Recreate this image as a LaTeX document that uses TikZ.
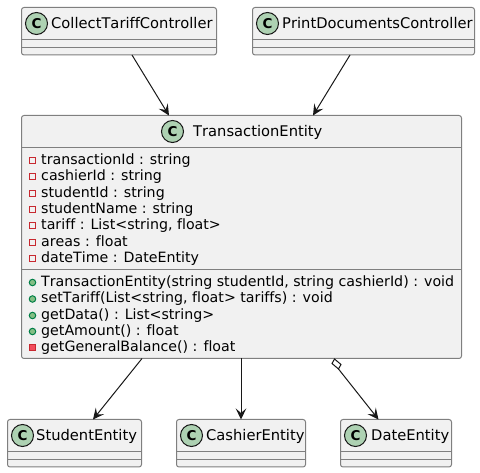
\documentclass[tikz,border=0pt]{standalone}
\usepackage{fontspec}
\setmainfont{DejaVu Sans}[Kerning=Off,Ligatures=NoCommon]
\usetikzlibrary{arrows.meta,calc}
\definecolor{boxfill}{HTML}{F1F1F1}
\definecolor{boxline}{HTML}{7F7F7F}
\definecolor{ink}{HTML}{181818}
\definecolor{spot}{HTML}{ADD1B2}
\definecolor{privline}{HTML}{C82930}
\definecolor{privfill}{HTML}{F24D5C}
\definecolor{publine}{HTML}{038048}
\definecolor{pubfill}{HTML}{84BE84}
\tikzset{
  x=1pt,y=-1pt,
  classbox/.style={draw=boxline,fill=boxfill,line width=1pt,rounded corners=2.5pt,anchor=north west,inner sep=0pt,outer sep=0pt},
  divider/.style={draw=boxline,line width=1pt},
  spotc/.style={circle,draw=ink,fill=spot,line width=1pt,minimum size=22pt,inner sep=0pt,font=\fontsize{13.5}{13.5}\selectfont\bfseries},
  title/.style={anchor=base west,inner sep=0pt,font=\fontsize{14.7}{14.7}\selectfont,text=black},
  member/.style={anchor=base west,inner sep=0pt,font=\fontsize{14.2}{14.2}\selectfont,text=black},
  privattr/.style={rectangle,draw=privline,fill=none,line width=1pt,minimum size=6pt,inner sep=0pt},
  pubop/.style={circle,draw=publine,fill=pubfill,line width=1pt,minimum size=6.5pt,inner sep=0pt},
  privop/.style={rectangle,draw=privline,fill=privfill,line width=1pt,minimum size=6pt,inner sep=0pt},
  link/.style={draw=ink,line width=1pt,-{Stealth[length=11pt,width=10.5pt,inset=4.5pt]}},
  aggr/.style={draw=ink,fill=white,line width=1pt},
}
\begin{document}
\begin{tikzpicture}
\useasboundingbox (0,0) rectangle (480,473);
% boxes
\node[classbox,minimum width=195pt,minimum height=47.5pt] (collect) at (21.5,7.5) {};
\node[classbox,minimum width=222pt,minimum height=47.5pt] (print) at (252.5,7.5) {};
\node[classbox,minimum width=440pt,minimum height=243pt] (trans) at (21.5,115.5) {};
\node[classbox,minimum width=134pt,minimum height=47.5pt] (student) at (7.5,419.5) {};
\node[classbox,minimum width=129pt,minimum height=47.5pt] (cashier) at (176.5,419.5) {};
\node[classbox,minimum width=111pt,minimum height=47.5pt] (date) at (340.5,419.5) {};
% dividers
\draw[divider] (21.5,39.5) -- (216.5,39.5) (21.5,47.5) -- (216.5,47.5);
\draw[divider] (252.5,39.5) -- (474.5,39.5) (252.5,47.5) -- (474.5,47.5);
\draw[divider] (21.5,147.5) -- (461.5,147.5) (21.5,269.5) -- (461.5,269.5);
\draw[divider] (7.5,451.5) -- (141.5,451.5) (7.5,459.5) -- (141.5,459.5);
\draw[divider] (176.5,451.5) -- (305.5,451.5) (176.5,459.5) -- (305.5,459.5);
\draw[divider] (340.5,451.5) -- (451.5,451.5) (340.5,459.5) -- (451.5,459.5);
% spots
\node[spotc] (s1) at (36.5,23.5) {C};
\node[spotc] (s2) at (267.5,23.5) {C};
\node[spotc] (s3) at (172.5,131.5) {C};
\node[spotc] (s4) at (22.5,435.5) {C};
\node[spotc] (s5) at (191.5,435.5) {C};
\node[spotc] (s6) at (355.5,435.5) {C};
% titles
\node[title] (t1) at (51,28.5) {CollectTariffController};
\node[title] (t2) at (282,28.5) {PrintDocumentsController};
\node[title] (t3) at (193,136.5) {TransactionEntity};
\node[title] (t4) at (36,440.5) {StudentEntity};
\node[title] (t5) at (206,440.5) {CashierEntity};
\node[title] (t6) at (371,440.5) {DateEntity};
% attributes
\node[privattr] (i1) at (32.5,160.5) {};
\node[privattr] (i2) at (32.5,176.5) {};
\node[privattr] (i3) at (32.5,193.5) {};
\node[privattr] (i4) at (32.5,209.5) {};
\node[privattr] (i5) at (32.5,225.5) {};
\node[privattr] (i6) at (32.5,242.5) {};
\node[privattr] (i7) at (32.5,258.5) {};
\node[member] (a1) at (41,164.5) {transactionId : string};
\node[member] (a2) at (41,180.5) {cashierId : string};
\node[member] (a3) at (41,197.5) {studentId : string};
\node[member] (a4) at (41,213.5) {studentName : string};
\node[member] (a5) at (41,229.5) {tariff : List<string, float>};
\node[member] (a6) at (41,246.5) {areas : float};
\node[member] (a7) at (41,262.5) {dateTime : DateEntity};
% operations
\node[pubop] (j1) at (32.5,282.5) {};
\node[pubop] (j2) at (32.5,299) {};
\node[pubop] (j3) at (32.5,315.5) {};
\node[pubop] (j4) at (32.5,331.5) {};
\node[privop] (j5) at (32.5,347.5) {};
\node[member] (m1) at (41,286.5) {TransactionEntity(string studentId, string cashierId) : void};
\node[member] (m2) at (41,302.5) {setTariff(List<string, float> tariffs) : void};
\node[member] (m3) at (41,319.5) {getData() : List<string>};
\node[member] (m4) at (41,335.5) {getAmount() : float};
\node[member] (m5) at (41,351.5) {getGeneralBalance() : float};
% connectors
\draw[link] ($(collect.south west)+(110.5,0)$) -- ($(trans.north west)+(147.5,0)$);
\draw[link] ($(print.south west)+(97.5,0)$) -- ($(trans.north west)+(291.5,0)$);
\draw[link] ($(trans.south west)+(120.5,0)$) -- ($(student.north west)+(85.5,0)$);
\draw[link] ($(trans.south west)+(219.5,0)$) -- ($(cashier.north west)+(64.5,0)$);
\coordinate (dtail) at ($(trans.south west)+(317,10.5)$);
\draw[link] (dtail) -- ($(date.north west)+(38,0)$);
\draw[aggr] ($(trans.south west)+(313,0.5)$) -- ($(trans.south west)+(319.5,6)$) -- ($(trans.south west)+(317,10.5)$)
  -- ($(trans.south west)+(310.5,5)$) -- cycle;
\end{tikzpicture}
\end{document}
